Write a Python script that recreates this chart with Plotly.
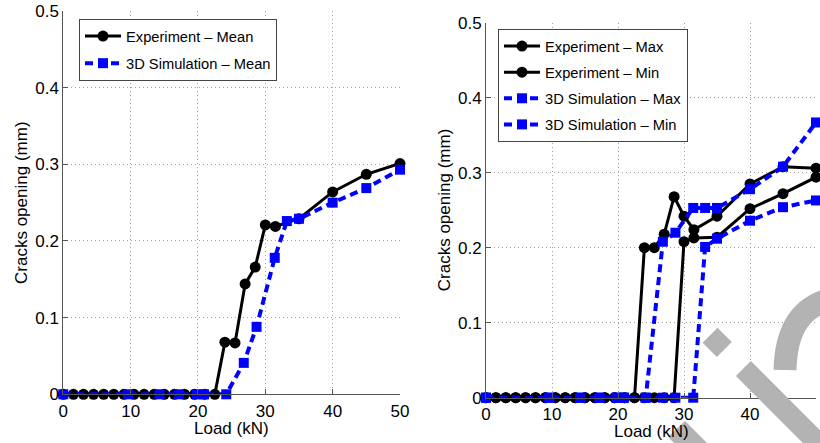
import plotly.graph_objects as go

# ---------------- data ----------------
exp_x = [0, 1.5, 3, 4.5, 6, 7.5, 9, 10.5, 12, 13.5, 15, 16.5, 18, 19.5, 21, 22.5,
         24, 25.5, 27, 28.5, 30, 31.5, 35, 40, 45, 50]
exp_mean = [0]*16 + [0.068, 0.067, 0.144, 0.166, 0.221, 0.219, 0.229, 0.264, 0.287, 0.301]

sim_x = [0, 9.6, 14.3, 17.2, 19.8, 20.9, 24.2, 26.8, 28.7, 31.4, 33.2, 35, 40, 45, 50]
sim_mean = [0, 0, 0, 0, 0, 0, 0, 0.041, 0.088, 0.178, 0.226, 0.229, 0.250, 0.269, 0.293]

exp_max = [0]*16 + [0.200, 0.200, 0.218, 0.268, 0.242, 0.224, 0.242, 0.285, 0.308, 0.306]
exp_min = [0]*20 + [0.208, 0.213, 0.214, 0.252, 0.272, 0.294]

sim_max = [0, 0, 0, 0, 0, 0, 0, 0.208, 0.220, 0.253, 0.253, 0.253, 0.278, 0.308, 0.367]
sim_min = [0, 0, 0, 0, 0, 0, 0, 0, 0, 0, 0.201, 0.212, 0.236, 0.254, 0.263]

x_ticks = [0, 10, 20, 30, 40, 50]
y_ticks = [0, 0.1, 0.2, 0.3, 0.4, 0.5]
y_ticktext = ["0", "0.1", "0.2", "0.3", "0.4", "0.5"]

x_title = "Load (kN)"
y_title = "Cracks opening (mm)"

FONT = "Liberation Sans, Arial, Helvetica, sans-serif"
BLACK = "#000000"
BLUE = "#0000ff"
GRID = "#a0a0a0"
AXIS = "#555555"
WM_COLOR = "#b3b3b3"

fig = go.Figure()

def exp_trace(x, y, name, xa, ya, leg):
    return go.Scatter(x=x, y=y, name=name, mode="lines+markers", xaxis=xa, yaxis=ya,
                      line=dict(color=BLACK, width=3),
                      marker=dict(symbol="circle", size=11, color=BLACK),
                      cliponaxis=False, legend=leg, legendgroup=name)

def sim_trace(x, y, name, xa, ya, leg):
    return go.Scatter(x=x, y=y, name=name, mode="lines+markers", xaxis=xa, yaxis=ya,
                      line=dict(color=BLUE, width=4, dash="8px,5px"),
                      marker=dict(symbol="square", size=10, color=BLUE),
                      cliponaxis=False, legend=leg, legendgroup=name)

fig.add_trace(exp_trace(exp_x, exp_mean, "Experiment – Mean", "x", "y", "legend"))
fig.add_trace(sim_trace(sim_x, sim_mean, "3D Simulation – Mean", "x", "y", "legend"))
fig.add_trace(exp_trace(exp_x, exp_max, "Experiment – Max", "x2", "y2", "legend2"))
fig.add_trace(exp_trace(exp_x, exp_min, "Experiment – Min", "x2", "y2", "legend2"))
fig.add_trace(sim_trace(sim_x, sim_max, "3D Simulation – Max", "x2", "y2", "legend2"))
fig.add_trace(sim_trace(sim_x, sim_min, "3D Simulation – Min", "x2", "y2", "legend2"))

W, H = 820, 443

def xaxis(dom, anchor):
    return dict(domain=dom, range=[0, 50], tickvals=x_ticks, anchor=anchor, showgrid=True,
                gridcolor=GRID, griddash="1px,3px", gridwidth=1, zeroline=False,
                showline=True, linecolor=AXIS, linewidth=1, ticks="inside",
                ticklen=5, tickcolor=AXIS, tickfont=dict(size=17, color="#000"),
                ticklabelstandoff=1, automargin=False, fixedrange=True)

def yaxis(dom, anchor):
    return dict(domain=dom, range=[0, 0.5], tickvals=y_ticks, ticktext=y_ticktext,
                anchor=anchor, showgrid=True, gridcolor=GRID, griddash="1px,3px",
                gridwidth=1, zeroline=False, showline=True, linecolor=AXIS,
                linewidth=1, ticks="inside", ticklen=5, tickcolor=AXIS,
                tickfont=dict(size=17, color="#000"), ticklabelstandoff=0,
                automargin=False, fixedrange=True)

L_X = [63.3, 400]
L_Y = [11, 394.3]
R_X = [486, 816]
R_Y = [22.7, 397.7]

fig.update_layout(
    width=W, height=H,
    margin=dict(l=0, r=0, t=0, b=0),
    paper_bgcolor="white", plot_bgcolor="white",
    font=dict(family=FONT, size=17, color="#000"),
    xaxis=xaxis([L_X[0]/W, L_X[1]/W], "y"),
    yaxis=yaxis([1-L_Y[1]/H, 1-L_Y[0]/H], "x"),
    xaxis2=xaxis([R_X[0]/W, R_X[1]/W], "y2"),
    yaxis2=yaxis([1-R_Y[1]/H, 1-R_Y[0]/H], "x2"),
    legend=dict(x=79/W, y=1-19/H, xanchor="left", yanchor="top",
                bgcolor="white", bordercolor="#444444", borderwidth=1, itemwidth=36,
                font=dict(size=14.7, family=FONT), tracegroupgap=5, traceorder="grouped"),
    legend2=dict(x=498/W, y=1-29/H, xanchor="left", yanchor="top",
                 bgcolor="white", bordercolor="#444444", borderwidth=1, itemwidth=36,
                 font=dict(size=14.7, family=FONT), tracegroupgap=4, traceorder="grouped"),
    showlegend=True,
)

# axis titles
for (xs, ys) in [(L_X, L_Y), (R_X, R_Y)]:
    fig.add_annotation(text=x_title, xref="paper", yref="paper",
                       x=(xs[0]+xs[1])/2/W, y=1-(ys[1]+34)/H,
                       xanchor="center", yanchor="middle", showarrow=False,
                       font=dict(size=17, color="#000", family=FONT))
    fig.add_annotation(text=y_title, xref="paper", yref="paper",
                       x=(xs[0]-42)/W, y=1-(ys[0]+ys[1])/2/H,
                       xanchor="center", yanchor="middle", showarrow=False, textangle=-90,
                       font=dict(size=17, color="#000", family=FONT))

# ---- watermark (decoration, partially off-canvas) ----
def px(x, y):
    return f"{x/W:.5f},{1-y/H:.5f}"

fig.add_annotation(text="i", xref="paper", yref="paper", x=774/W, y=1-400/H,
                   xanchor="center", yanchor="middle", showarrow=False, textangle=-45,
                   font=dict(size=240, color=WM_COLOR, family=FONT))
# curved stroke of the following letter
fig.add_shape(type="path", xref="paper", yref="paper",
              path=f"M{px(785, 370)} C{px(786, 330)} {px(800, 305)} {px(836, 298)}",
              line=dict(color=WM_COLOR, width=23), layer="above")
# top of the preceding letter's stroke
fig.add_shape(type="path", xref="paper", yref="paper",
              path=f"M{px(668, 437)} L{px(685, 421)} L{px(708, 444)} L{px(675, 444)} Z",
              line=dict(width=0), fillcolor=WM_COLOR, layer="above")

fig.write_html("out.html", config={"displayModeBar": False, "staticPlot": True},
               post_script="document.body.style.margin='0px';document.body.style.overflow='hidden';")
